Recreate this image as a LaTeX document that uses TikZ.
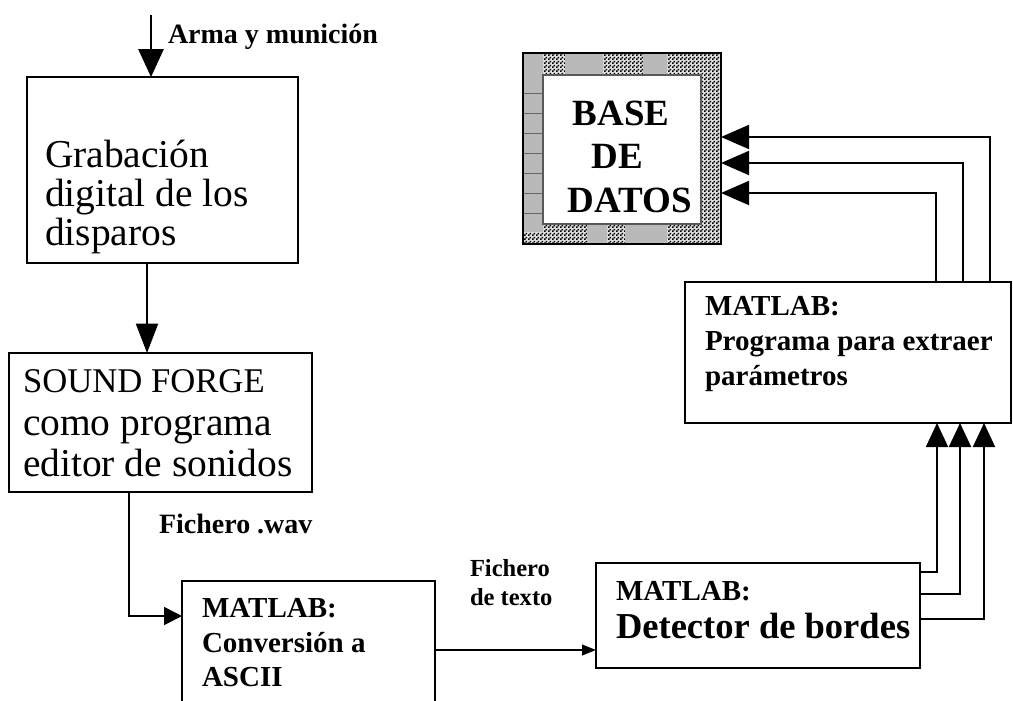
\documentclass[tikz,border=0pt]{standalone}
\usepackage{fontspec}
\setmainfont{Liberation Serif}
\usetikzlibrary{arrows.meta,patterns}
\pgfdeclarepatternformonly{finecheck}{\pgfpointorigin}{\pgfqpoint{3pt}{3pt}}{\pgfqpoint{3pt}{3pt}}{%
  \pgfpathrectangle{\pgfpointorigin}{\pgfqpoint{1.5pt}{1.5pt}}%
  \pgfpathrectangle{\pgfqpoint{1.5pt}{1.5pt}}{\pgfqpoint{1.5pt}{1.5pt}}%
  \pgfusepath{fill}}
\newcommand\fReg{\fontsize{29.6pt}{30pt}\selectfont}
\newcommand\fSnd{\fontsize{26pt}{30pt}\selectfont}
\newcommand\fBa{\bfseries\fontsize{21pt}{25pt}\selectfont}
\newcommand\fBb{\bfseries\fontsize{21.75pt}{25pt}\selectfont}
\newcommand\fBc{\bfseries\fontsize{18.4pt}{22pt}\selectfont}
\newcommand\fBd{\bfseries\fontsize{27.4pt}{30pt}\selectfont}
\newcommand\fBe{\bfseries\fontsize{27.75pt}{30pt}\selectfont}
\begin{document}
\begin{tikzpicture}[x=0.75pt,y=-0.75pt,
  box/.style={draw,line width=1.4pt,inner sep=0,outer sep=0},
  txt/.style={anchor=base west,inner sep=0,outer sep=0},
  ctxt/.style={anchor=base,inner sep=0,outer sep=0},
  conn/.style={line width=1.4pt},
  tipA/.style={-{Triangle[length=21pt,width=19pt]}},
  tipB/.style={-{Triangle[length=22pt,width=16.5pt]}},
  tipC/.style={-{Triangle[length=13.5pt,width=13.5pt]}},
  tipD/.style={-{Triangle[length=10.5pt,width=8pt]}},
  tipE/.style={-{Triangle[length=18pt,width=16.5pt]}},
  tipF/.style={-{Triangle[length=21pt,width=18pt]}},
  seg/.style={fill=gray!55}]
\useasboundingbox (0,0) rectangle (1013,700);
\clip (0,0) rectangle (1013,700);

% boxes
\node[box,minimum width=203.25pt,minimum height=139.5pt] (grab) at (162.5,170) {};
\node[box,minimum width=227.25pt,minimum height=104.25pt] (sound) at (160.5,422.5) {};
\node[box,minimum width=189.75pt,minimum height=112.5pt] (ascii) at (308.5,656) {};
\node[box,minimum width=243pt,minimum height=78.75pt] (det) at (758,615.5) {};
\node[box,minimum width=244.5pt,minimum height=105.75pt] (mat) at (848,352.5) {};

% database box
\node[minimum width=148.5pt,minimum height=143.25pt,inner sep=0,outer sep=0] (base) at (622,148.5) {};
\coordinate (bi1) at (543,75);
\coordinate (bi2) at (701,224);
\fill[gray!25,even odd rule] (base.north west) rectangle (base.south east) (bi1) rectangle (bi2);
\fill[pattern=finecheck,even odd rule] (base.north west) rectangle (base.south east) (bi1) rectangle (bi2);
\fill[seg] (523,53) rectangle (543,232);
\fill[seg] (565,53) rectangle (603,75);
\fill[seg] (643,53) rectangle (667,75);
\fill[seg] (587,224) rectangle (607,244);
\fill[seg] (625,224) rectangle (667,244);
\foreach \yy in {93,113,133,153,173,193,213}
  \draw[black!60,line width=0.5pt] (523,\yy) -- (543,\yy);
\draw[line width=1.2pt] (base.north west) rectangle (base.south east);
\draw[black!65,line width=1.5pt] (bi1) rectangle (bi2);

% connectors
\coordinate (in0) at (151,15);
\draw[conn,tipA] (in0) -- (in0 |- grab.north);
\coordinate (x1) at (147,0);
\draw[conn,tipB] (grab.south -| x1) -- (sound.north -| x1);
\coordinate (c2) at (129,616);
\draw[conn,tipC] (sound.south -| c2) |- (ascii.west |- c2);
\coordinate (c3) at (0,650);
\draw[conn,tipD] (ascii.east |- c3) -- (det.west |- c3);
\coordinate (d1) at (937,572);
\coordinate (d2) at (960,594);
\coordinate (d3) at (984,619);
\draw[conn,tipE] (det.east |- d1) -| (mat.south -| d1);
\draw[conn,tipE] (det.east |- d2) -| (mat.south -| d2);
\draw[conn,tipE] (det.east |- d3) -| (mat.south -| d3);
\coordinate (u1) at (990,137);
\coordinate (u2) at (963,163);
\coordinate (u3) at (936,193);
\draw[conn,tipF] (mat.north -| u1) |- (base.east |- u1);
\draw[conn,tipF] (mat.north -| u2) |- (base.east |- u2);
\draw[conn,tipF] (mat.north -| u3) |- (base.east |- u3);

% texts
\node[txt,font=\fBa] (t0) at (168,43) {Arma y munición};
\node[txt,font=\fReg] (g1) at (45,167) {Grabación};
\node[txt,font=\fReg] (g2) at (45,206) {digital de los};
\node[txt,font=\fReg] (g3) at (45,245) {disparos};
\node[txt,font=\fSnd] (s1) at (23,392) {SOUND FORGE};
\node[txt,font=\fReg] (s2) at (23,435) {como programa};
\node[txt,font=\fReg] (s3) at (23,476) {editor de sonidos};
\node[txt,font=\fBa] (fw) at (159,533) {Fichero .wav};
\node[txt,font=\fBb] (a1) at (202,617) {MATLAB:};
\node[txt,font=\fBb] (a2) at (202,652) {Conversión a};
\node[txt,font=\fBb] (a3) at (202,686) {ASCII};
\node[txt,font=\fBc] (ft1) at (470,576) {Fichero};
\node[txt,font=\fBc] (ft2) at (470,605) {de texto};
\node[txt,font=\fBb] (e1) at (616,600) {MATLAB:};
\node[txt,font=\fBd] (e2) at (616,638) {Detector de bordes};
\node[txt,font=\fBb] (m1) at (705,315) {MATLAB:};
\node[txt,font=\fBb] (m2) at (705,350) {Programa para extraer};
\node[txt,font=\fBb] (m3) at (705,385) {parámetros};
\node[ctxt,font=\fBe] (b1) at (621,125) {BASE};
\node[ctxt,font=\fBe] (b2) at (617,168) {DE};
\node[ctxt,font=\fBe] (b3) at (630,212) {DATOS};
\end{tikzpicture}
\end{document}
